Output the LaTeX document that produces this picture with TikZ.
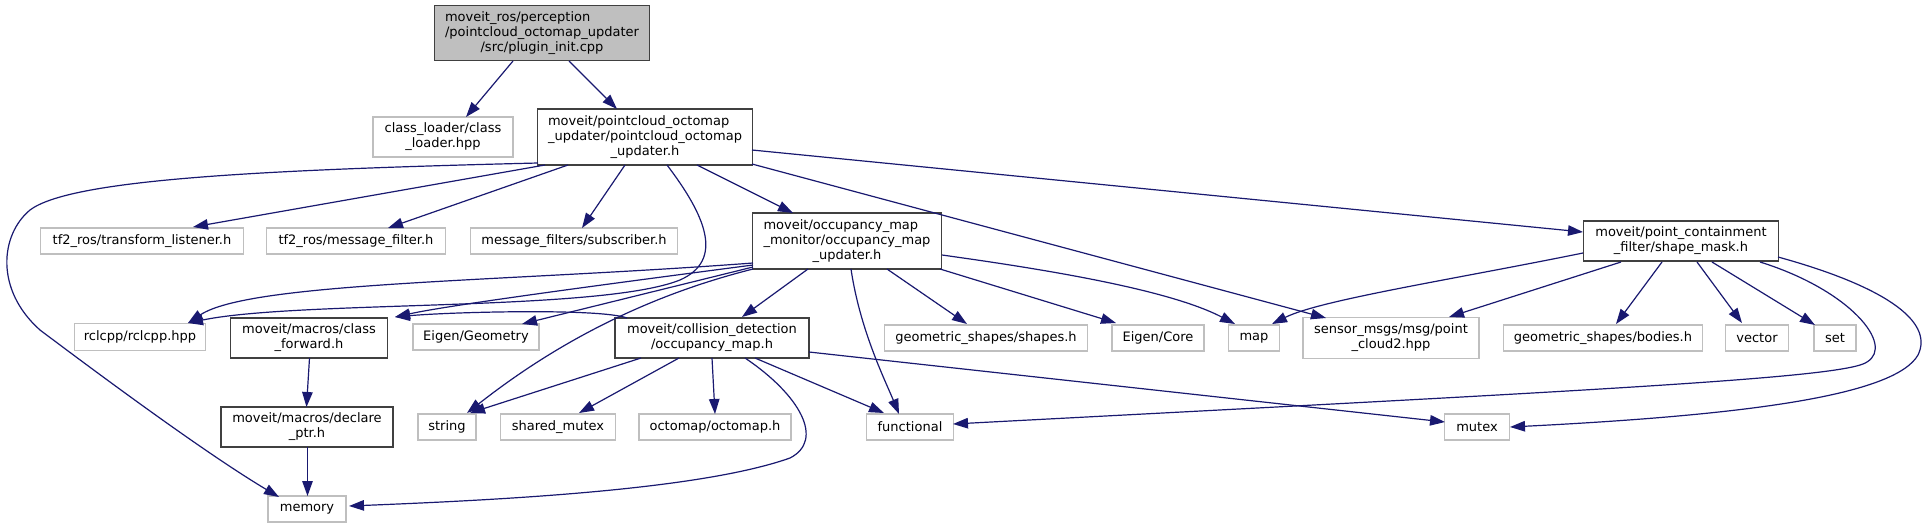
\documentclass[tikz,border=0pt]{standalone}
\usepackage{fontspec}
\setmainfont{DejaVu Sans}
\usetikzlibrary{arrows.meta}
\definecolor{edgec}{HTML}{191970}
\definecolor{lgray}{HTML}{BFBFBF}
\definecolor{dgray}{HTML}{404040}
\newcommand{\twol}[2]{\begin{tabular}{@{}l@{}}#1\\\multicolumn{1}{@{}c@{}}{#2}\end{tabular}}
\newcommand{\threel}[3]{\begin{tabular}{@{}l@{}}#1\\#2\\\multicolumn{1}{@{}c@{}}{#3}\end{tabular}}
\begin{document}
\begin{tikzpicture}[x=1pt,y=-1pt,
  base/.style={rectangle, inner sep=0pt, anchor=center, font=\fontsize{13}{15}\selectfont},
  ext/.style={base, draw=lgray, line width=1.3pt, fill=white},
  int/.style={base, draw=dgray, line width=1.3pt, fill=white},
  rootn/.style={base, draw=dgray, fill=lgray, line width=1.3pt},
  dep/.style={draw=edgec, line width=1.2pt, -{Triangle[length=15pt,width=10.5pt]}}]
\useasboundingbox[fill=white] (0,0) rectangle (1930,528);
% nodes
\node[rootn, minimum width=215, minimum height=55] (root) at (542,33) {\threel{moveit\_ros/perception}{/pointcloud\_octomap\_updater}{/src/plugin\_init.cpp}};
\node[ext, minimum width=140, minimum height=40] (cl) at (443,137) {\twol{class\_loader/class}{\_loader.hpp}};
\node[int, minimum width=215, minimum height=56] (poup) at (645,137) {\threel{moveit/pointcloud\_octomap}{\_updater/pointcloud\_octomap}{\_updater.h}};
\node[ext, minimum width=203, minimum height=26] (tfl) at (142,241) {tf2\_ros/transform\_listener.h};
\node[ext, minimum width=179, minimum height=26] (tmf) at (356,241) {tf2\_ros/message\_filter.h};
\node[ext, minimum width=207, minimum height=26] (mfs) at (574,241) {message\_filters/subscriber.h};
\node[int, minimum width=189, minimum height=56] (omu) at (847,241) {\threel{moveit/occupancy\_map}{\_monitor/occupancy\_map}{\_updater.h}};
\node[int, minimum width=195, minimum height=40] (sm) at (1681,241) {\twol{moveit/point\_containment}{\_filter/shape\_mask.h}};
\node[ext, minimum width=131, minimum height=27] (rcl) at (140,337) {rclcpp/rclcpp.hpp};
\node[int, minimum width=157, minimum height=40] (cf) at (309,338) {\twol{moveit/macros/class}{\_forward.h}};
\node[ext, minimum width=126, minimum height=26] (eg) at (476,337) {Eigen/Geometry};
\node[int, minimum width=194, minimum height=40] (coll) at (712,338) {\twol{moveit/collision\_detection}{/occupancy\_map.h}};
\node[ext, minimum width=203, minimum height=26] (gss) at (986,338) {geometric\_shapes/shapes.h};
\node[ext, minimum width=92, minimum height=26] (ec) at (1158,338) {Eigen/Core};
\node[ext, minimum width=51, minimum height=26] (map) at (1254,338) {map};
\node[ext, minimum width=176, minimum height=41] (pc2) at (1391,338) {\twol{sensor\_msgs/msg/point}{\_cloud2.hpp}};
\node[ext, minimum width=199, minimum height=26] (gsb) at (1603,338) {geometric\_shapes/bodies.h};
\node[ext, minimum width=63, minimum height=26] (vec) at (1757,338) {vector};
\node[ext, minimum width=42, minimum height=26] (set) at (1835,338) {set};
\node[int, minimum width=172, minimum height=40] (dp) at (307,427) {\twol{moveit/macros/declare}{\_ptr.h}};
\node[ext, minimum width=58, minimum height=26] (str) at (447,427) {string};
\node[ext, minimum width=115, minimum height=26] (smx) at (558,427) {shared\_mutex};
\node[ext, minimum width=152, minimum height=26] (oct) at (715,427) {octomap/octomap.h};
\node[ext, minimum width=87, minimum height=26] (fun) at (910,427) {functional};
\node[ext, minimum width=65, minimum height=26] (mtx) at (1477,427) {mutex};
\node[ext, minimum width=78, minimum height=26] (mem) at (307,509) {memory};
% edges
\draw[dep] ([shift={(-29,28)}]root.center) -- ([shift={(23,-20)}]cl.center);
\draw[dep] ([shift={(27,28)}]root.center) -- ([shift={(-28,-28)}]poup.center);
\draw[dep] ([shift={(-107,26)}]poup.center) .. controls (250,170) and (70,180) .. (30,210)
   .. controls (0,235) and (-5,290) .. (40,330) .. controls (80,360) and (200,450) .. ([shift={(-28,-12)}]mem.center);
\draw[dep] ([shift={(-100,28)}]poup.center) -- ([shift={(51,-14)}]tfl.center);
\draw[dep] ([shift={(-77,28)}]poup.center) -- ([shift={(32,-13)}]tmf.center);
\draw[dep] ([shift={(-20,28)}]poup.center) -- ([shift={(8,-13)}]mfs.center);
\draw[dep] ([shift={(52,28)}]poup.center) -- ([shift={(-54,-28)}]omu.center);
\draw[dep] ([shift={(107,13)}]poup.center) -- ([shift={(-98,-9)}]sm.center);
\draw[dep] ([shift={(107,27)}]poup.center) -- ([shift={(-65,-20)}]pc2.center);
\draw[dep] ([shift={(22,28)}]poup.center) .. controls (705,215) and (725,260) .. (680,280)
   .. controls (600,312) and (300,300) .. ([shift={(48,-14)}]rcl.center);
\draw[dep] ([shift={(-94,22)}]omu.center) .. controls (500,282) and (250,282) .. ([shift={(48,-14)}]rcl.center);
\draw[dep] ([shift={(-94,24)}]omu.center) .. controls (600,285) and (450,305) .. ([shift={(86,-21)}]cf.center);
\draw[dep] ([shift={(-94,26)}]omu.center) -- ([shift={(46,-13)}]eg.center);
\draw[dep] ([shift={(-94,28)}]omu.center) .. controls (650,295) and (560,340) .. ([shift={(20,-14)}]str.center);
\draw[dep] ([shift={(-85,-20)}]coll.center) .. controls (600,308) and (450,312) .. ([shift={(86,-21)}]cf.center);
\draw[dep] ([shift={(-39,28)}]omu.center) -- ([shift={(30,-21)}]coll.center);
\draw[dep] ([shift={(4,28)}]omu.center) .. controls (860,330) and (885,380) .. ([shift={(-11,-13)}]fun.center);
\draw[dep] ([shift={(40,28)}]omu.center) -- ([shift={(-19,-14)}]gss.center);
\draw[dep] ([shift={(93,28)}]omu.center) -- ([shift={(-42,-15)}]ec.center);
\draw[dep] ([shift={(95,14)}]omu.center) .. controls (1050,270) and (1170,290) .. ([shift={(-19,-14)}]map.center);
\draw[dep] ([shift={(-98,12)}]sm.center) .. controls (1450,280) and (1320,300) .. ([shift={(18,-14)}]map.center);
\draw[dep] ([shift={(-60,21)}]sm.center) -- ([shift={(58,-21)}]pc2.center);
\draw[dep] ([shift={(-19,21)}]sm.center) -- ([shift={(13,-14)}]gsb.center);
\draw[dep] ([shift={(16,21)}]sm.center) -- ([shift={(-15,-15)}]vec.center);
\draw[dep] ([shift={(31,21)}]sm.center) -- ([shift={(-20,-13)}]set.center);
\draw[dep] ([shift={(79,21)}]sm.center) .. controls (1850,290) and (1895,345) .. (1867,362)
   .. controls (1845,378) and (1600,390) .. ([shift={(43,-3)}]fun.center);
\draw[dep] ([shift={(97,16)}]sm.center) .. controls (1880,285) and (1935,320) .. (1918,355)
   .. controls (1895,395) and (1750,415) .. ([shift={(33,0)}]mtx.center);
\draw[dep] ([shift={(-71,20)}]coll.center) -- ([shift={(23,-14)}]str.center);
\draw[dep] ([shift={(-33,20)}]coll.center) -- ([shift={(21,-14)}]smx.center);
\draw[dep] ([shift={(0,20)}]coll.center) -- ([shift={(0,-13)}]oct.center);
\draw[dep] ([shift={(43,20)}]coll.center) -- ([shift={(-26,-14)}]fun.center);
\draw[dep] ([shift={(33,20)}]coll.center) .. controls (800,395) and (825,440) .. (790,458)
   .. controls (700,490) and (500,500) .. ([shift={(42,-3)}]mem.center);
\draw[dep] ([shift={(97,14)}]coll.center) -- ([shift={(-32,-5)}]mtx.center);
\draw[dep] ([shift={(0.5,20)}]cf.center) -- ([shift={(-0.5,-20)}]dp.center);
\draw[dep] ([shift={(0.5,20)}]dp.center) -- ([shift={(0.5,-13)}]mem.center);
\end{tikzpicture}
\end{document}
